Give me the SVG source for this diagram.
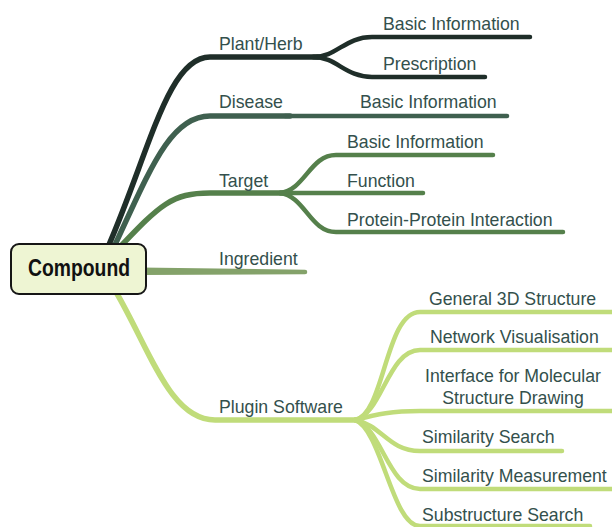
<svg xmlns="http://www.w3.org/2000/svg" width="612" height="527" viewBox="0 0 612 527">
<style>
.br{fill:none;stroke-linecap:round;stroke-linejoin:round}
.c1{stroke:#1f2e29}
.c2{stroke:#3f604f}
.c3{stroke:#55804b}
.c5{stroke:#c0dc7a}
.t{font-family:"Liberation Sans",Arial,sans-serif;font-size:17.7px;fill:#33504c}
.root{font-family:"Liberation Sans Narrow","Liberation Sans",Arial,sans-serif;font-size:23.5px;font-weight:bold;fill:#111}
</style>
<rect width="612" height="527" fill="#fff"/>
<g id="connectors">
  <!-- Plugin Software -->
  <g class="br c5">
    <path d="M116,292 C150,350 170,420 215,420 L357,420" stroke-width="5.5"/>
    <path d="M355,420 C385,414 385,312 420,312 L614,312" stroke-width="4.5"/>
    <path d="M355,420 C382,414 388,350 420,350 L614,350" stroke-width="4.5"/>
    <path d="M355,420 C378,414 392,411 420,411 L614,411" stroke-width="4.5"/>
    <path d="M355,420 C382,425 388,451 420,451 L562,451" stroke-width="4.5"/>
    <path d="M355,420 C382,428 388,489 420,489 L614,489" stroke-width="4.5"/>
    <path d="M355,420 C382,430 392,526 420,526 L590,526" stroke-width="4.5"/>
  </g>
  <!-- Ingredient -->
  <path d="M140,267.5 L305,269.7 A2.3,2.3 0 0 1 305,274.3 L140,275 Z" fill="#84a26a"/>
  <!-- Target -->
  <g class="br c3">
    <path d="M120,247 C160,205 172,193 210,193 L285,193" stroke-width="5.5"/>
    <path d="M280,193 C305,190 310,155 336,155 L493,155" stroke-width="4.5"/>
    <path d="M280,193 L423,193" stroke-width="4.5"/>
    <path d="M280,193 C305,196 310,232 336,232 L563,232" stroke-width="4.5"/>
  </g>
  <!-- Disease -->
  <g class="br c2">
    <path d="M114,247 C150,170 170,116 210,116 L290,116" stroke-width="5.5"/>
    <path d="M285,116 L507,116" stroke-width="4.5"/>
  </g>
  <!-- Plant/Herb -->
  <g class="br c1">
    <path d="M108,247 C150,150 168,57 210,57 L318,57" stroke-width="5.5"/>
    <path d="M313,57 C337,57 345,37 372,37 L530,37" stroke-width="4.5"/>
    <path d="M313,57 C337,57 345,77 372,77 L485,77" stroke-width="4.5"/>
  </g>
</g>
<g id="compound">
  <rect x="11" y="244" width="135" height="50" rx="8" fill="#eef5d3" stroke="#161616" stroke-width="2"/>
  <text class="root" x="28" y="276" textLength="102" lengthAdjust="spacingAndGlyphs">Compound</text>
</g>
<g id="plant-herb"><text class="t" x="219" y="50">Plant/Herb</text></g>
<g id="plant-basic"><text class="t" x="383" y="30">Basic Information</text></g>
<g id="plant-prescription"><text class="t" x="383" y="70">Prescription</text></g>
<g id="disease"><text class="t" x="219" y="108">Disease</text></g>
<g id="disease-basic"><text class="t" x="360" y="108">Basic Information</text></g>
<g id="target"><text class="t" x="219" y="187">Target</text></g>
<g id="target-basic"><text class="t" x="347" y="148">Basic Information</text></g>
<g id="target-function"><text class="t" x="347" y="187">Function</text></g>
<g id="target-ppi"><text class="t" x="347" y="226">Protein-Protein Interaction</text></g>
<g id="ingredient"><text class="t" x="219" y="265">Ingredient</text></g>
<g id="plugin"><text class="t" x="219" y="413">Plugin Software</text></g>
<g id="p-3d"><text class="t" x="429" y="305">General 3D Structure</text></g>
<g id="p-net"><text class="t" x="430" y="343">Network Visualisation</text></g>
<g id="p-iface"><text class="t" x="513" y="382" text-anchor="middle">Interface for Molecular</text><text class="t" x="513" y="404" text-anchor="middle">Structure Drawing</text></g>
<g id="p-simsearch"><text class="t" x="422" y="443">Similarity Search</text></g>
<g id="p-simmeas"><text class="t" x="422" y="482">Similarity Measurement</text></g>
<g id="p-substructure"><text class="t" x="422" y="521">Substructure Search</text></g>
</svg>
